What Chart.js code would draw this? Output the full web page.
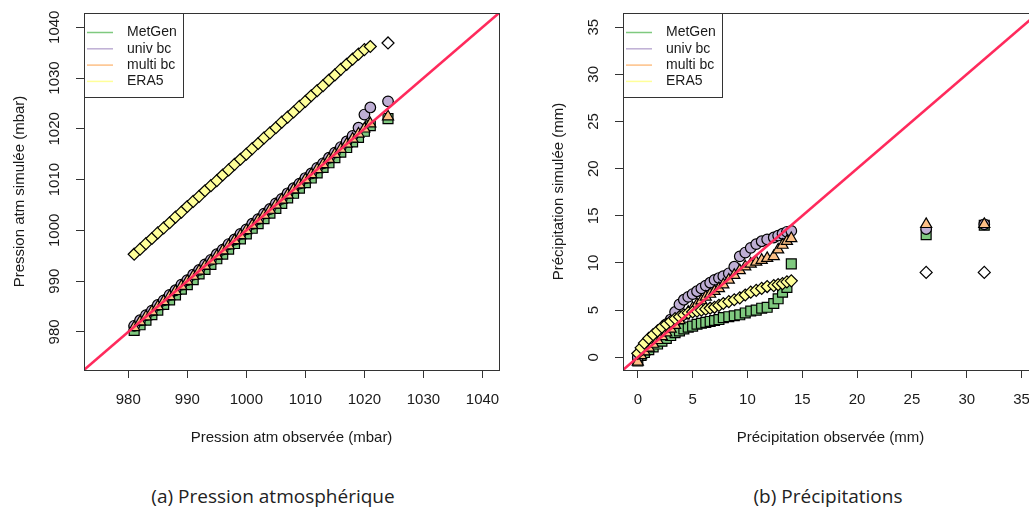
<!DOCTYPE html>
<html>
<head>
<meta charset="utf-8">
<script src="https://cdn.jsdelivr.net/npm/chart.js@4.4.1/dist/chart.umd.min.js"></script>
<style>
html, body { margin: 0; padding: 0; background: #fff; }
#page { position: relative; width: 1029px; height: 517px; overflow: hidden; }
.panel { position: absolute; top: 0; }
.caption { position: absolute; top: 483px; font-family: "Open Sans", sans-serif; font-size: 19px; color: #222;
  transform: translateX(-50%); white-space: nowrap; }
</style>
</head>
<body>
<div id="page">
  <canvas id="pressChart" class="panel" width="520" height="460" style="left:0"></canvas>
  <canvas id="precChart" class="panel" width="520" height="460" style="left:539px"></canvas>
  <div class="caption" style="left:273px">(a) Pression atmosphérique</div>
  <div class="caption" style="left:828px">(b) Précipitations</div>
</div>
<script>
// series shared by both panels
const seriesNames = ['MetGen', 'univ bc', 'multi bc', 'ERA5'];
const seriesColors = ['#7FC97F', '#BEAED4', '#FDC086', '#FFFF99'];
const seriesShapes = ['rect', 'circle', 'triangle', 'rectRot'];
const seriesRadius = [7.0, 5.3, 6.4, 6.0];

// (a) pressure, mbar
const pressTicks = [980, 990, 1000, 1010, 1020, 1030, 1040];
const pressRange = [972.5, 1042.8];
const obsPres = [981, 982, 983, 984, 985, 986, 987, 988, 989, 990, 991, 992, 993, 994, 995, 996, 997, 998, 999, 1000,
  1001, 1002, 1003, 1004, 1005, 1006, 1007, 1008, 1009, 1010, 1011, 1012, 1013, 1014, 1015, 1016, 1017, 1018, 1019, 1020,
  1021, 1024];
const metgenPres = [980.3, 981.4, 982.3, 983.4, 984.3, 985.4, 986.3, 987.3, 988.4, 989.3, 990.3, 991.4, 992.3, 993.3, 994.4,
  995.3, 996.3, 997.4, 998.3, 999.3, 1000.4, 1001.3, 1002.3, 1003.4, 1004.3, 1005.3, 1006.4, 1007.3, 1008.3, 1009.4,
  1010.3, 1011.3, 1012.4, 1013.3, 1014.3, 1015.4, 1016.3, 1017.4, 1018.3, 1019.5, 1020.6, 1022.0];
const univPres = [981.2, 982.3, 983.3, 984.2, 985.3, 986.2, 987.3, 988.2, 989.3, 990.2, 991.3, 992.2, 993.3, 994.2, 995.3,
  996.2, 997.3, 998.2, 999.3, 1000.2, 1001.3, 1002.2, 1003.3, 1004.2, 1005.3, 1006.2, 1007.3, 1008.3, 1009.2, 1010.3,
  1011.2, 1012.3, 1013.2, 1014.3, 1015.3, 1016.4, 1017.5, 1018.6, 1020.2, 1022.8, 1024.2, 1025.4];
const multiPres = [980.9, 982.0, 983.0, 984.0, 985.0, 986.0, 987.0, 988.0, 989.0, 990.0, 991.0, 992.0, 993.0, 994.0, 995.0,
  996.0, 997.0, 998.0, 999.0, 1000.0, 1001.0, 1002.0, 1003.0, 1004.0, 1005.0, 1006.0, 1007.0, 1008.0, 1009.0, 1010.0,
  1011.0, 1012.0, 1013.0, 1014.0, 1015.0, 1016.0, 1017.0, 1018.0, 1019.0, 1020.0, 1021.0, 1022.4];
const era5Pres = [995.3, 996.3, 997.4, 998.4, 999.5, 1000.5, 1001.5, 1002.6, 1003.6, 1004.7, 1005.7, 1006.7, 1007.8, 1008.8,
  1009.8, 1010.9, 1011.9, 1013.0, 1014.0, 1015.0, 1016.1, 1017.1, 1018.2, 1019.2, 1020.2, 1021.3, 1022.3, 1023.3, 1024.4,
  1025.4, 1026.5, 1027.5, 1028.5, 1029.6, 1030.6, 1031.7, 1032.7, 1033.7, 1034.7, 1035.6, 1036.2, 1036.9];

// (b) precipitation, mm
const precTicks = [0, 5, 10, 15, 20, 25, 30, 35];
const precRange = [-1.35, 36.5];
const obsPrec = [0, 0.3, 0.6, 1.0, 1.4, 1.8, 2.2, 2.6, 3.0, 3.4, 3.8, 4.2, 4.6, 5.0, 5.4, 5.8, 6.2, 6.6, 7.0, 7.4,
  7.8, 8.3, 8.8, 9.3, 9.8, 10.3, 10.8, 11.3, 11.8, 12.4, 12.8, 13.2, 13.6, 14.0, 26.3, 31.6];
const metgenPrec = [-0.4, 0.2, 0.5, 0.8, 1.1, 1.4, 1.7, 2.0, 2.3, 2.6, 2.8, 3.0, 3.2, 3.3, 3.5, 3.6, 3.7, 3.8, 3.9, 4.0,
  4.2, 4.3, 4.4, 4.5, 4.7, 4.9, 5.0, 5.2, 5.3, 5.7, 6.2, 6.9, 7.4, 9.9, 13.0, 14.0];
const univPrec = [0.0, 0.5, 1.0, 1.5, 2.0, 2.5, 3.0, 3.5, 4.0, 4.8, 5.6, 6.1, 6.4, 6.7, 7.0, 7.3, 7.6, 7.9, 8.2, 8.4,
  8.6, 8.9, 9.6, 10.7, 11.1, 11.6, 12.0, 12.3, 12.5, 12.7, 12.9, 13.1, 13.3, 13.4, 13.6, 14.1];
const multiPrec = [-0.5, 0.2, 0.6, 1.0, 1.4, 1.8, 2.2, 2.6, 3.0, 3.4, 3.9, 4.4, 4.8, 5.2, 5.6, 6.0, 6.4, 6.7, 7.0, 7.3,
  7.7, 8.2, 8.7, 9.2, 9.6, 9.9, 10.1, 10.3, 10.5, 10.7, 11.4, 11.9, 12.3, 12.6, 14.1, 14.1];
const era5Prec = [0.4, 1.0, 1.5, 2.0, 2.4, 2.8, 3.2, 3.5, 3.8, 4.1, 4.3, 4.5, 4.7, 4.8, 4.9, 5.0, 5.1, 5.2, 5.3, 5.5,
  5.7, 5.9, 6.1, 6.3, 6.6, 6.9, 7.1, 7.3, 7.5, 7.6, 7.7, 7.8, 8.0, 8.1, 9.0, 9.0];

const FONT = '"Liberation Sans", Arial, sans-serif';

// R-like frame: box, tick labels, axis titles and legend
const rFrame = {
    id: 'rFrame',
    afterDraw(chart, args, opts) {
        const { ctx, chartArea: a, scales } = chart;
        ctx.save();
        ctx.strokeStyle = '#333';
        ctx.lineWidth = 1;
        ctx.strokeRect(a.left + 0.5, a.top + 0.5, a.right - a.left, a.bottom - a.top);

        ctx.fillStyle = '#1a1a1a';
        ctx.font = '15px ' + FONT;
        ctx.textAlign = 'center';
        ctx.textBaseline = 'middle';
        scales.x.ticks.forEach(t => {
            ctx.fillText(String(t.value), scales.x.getPixelForValue(t.value), a.bottom + 30);
        });
        scales.y.ticks.forEach(t => {
            ctx.save();
            ctx.translate(a.left - 29, scales.y.getPixelForValue(t.value));
            ctx.rotate(-Math.PI / 2);
            ctx.fillText(String(t.value), 0, 0);
            ctx.restore();
        });

        ctx.fillText(opts.xTitle, (a.left + a.right) / 2, a.bottom + 68);
        ctx.save();
        ctx.translate(a.left - 64, (a.top + a.bottom) / 2);
        ctx.rotate(-Math.PI / 2);
        ctx.fillText(opts.yTitle, 0, 0);
        ctx.restore();

        // legend box in the top-left corner
        ctx.fillStyle = '#fff';
        ctx.fillRect(a.left + 1, a.top + 1, 98, 83);
        ctx.strokeStyle = '#333';
        ctx.strokeRect(a.left + 0.5, a.top + 0.5, 99, 84);
        ctx.font = '14px ' + FONT;
        ctx.textAlign = 'left';
        seriesNames.forEach((name, i) => {
            const y = a.top + 19.5 + i * 16.3;
            ctx.strokeStyle = seriesColors[i];
            ctx.lineWidth = 1.5;
            ctx.beginPath();
            ctx.moveTo(a.left + 3, y);
            ctx.lineTo(a.left + 29, y);
            ctx.stroke();
            ctx.fillStyle = '#1a1a1a';
            ctx.fillText(name, a.left + 43, y);
        });
        ctx.restore();
    }
};

function makeQQChart(canvasId, obs, sims, ticks, range, xTitle, yTitle, era5White) {
    const datasets = sims.map((sim, i) => ({
        label: seriesNames[i],
        data: obs.map((x, j) => ({ x: x, y: sim[j] })),
        pointStyle: seriesShapes[i],
        pointRadius: seriesRadius[i],
        pointBackgroundColor: i === 3
            ? (c => c.dataIndex >= obs.length - era5White ? '#ffffff' : seriesColors[i])
            : seriesColors[i],
        pointBorderColor: '#000',
        pointBorderWidth: 1.2,
        showLine: false,
        order: 4 - i
    }));
    // 1:1 line
    datasets.push({
        label: 'y = x',
        data: [{ x: range[0], y: range[0] }, { x: range[1], y: range[1] }],
        showLine: true,
        borderColor: '#ff2a5c',
        borderWidth: 2.5,
        pointRadius: 0,
        order: 0
    });

    const axis = (dim) => ({
        type: 'linear',
        min: range[0],
        max: range[1],
        afterFit: s => { if (dim === 'x') s.height = 0; else s.width = 0; },
        afterBuildTicks: s => { s.ticks = ticks.map(v => ({ value: v })); },
        ticks: { display: false },
        grid: { drawOnChartArea: false, drawTicks: true, tickLength: 8, color: '#333', lineWidth: 1 },
        border: { display: false }
    });

    return new Chart(document.getElementById(canvasId).getContext('2d'), {
        type: 'scatter',
        data: { datasets: datasets },
        options: {
            responsive: false,
            animation: false,
            events: [],
            layout: { padding: { left: 84, top: 13, right: 21, bottom: 90 } },
            scales: { x: axis('x'), y: axis('y') },
            plugins: {
                legend: { display: false },
                tooltip: { enabled: false },
                rFrame: { xTitle: xTitle, yTitle: yTitle }
            }
        },
        plugins: [rFrame]
    });
}

makeQQChart('pressChart', obsPres, [metgenPres, univPres, multiPres, era5Pres], pressTicks, pressRange,
    'Pression atm observée (mbar)', 'Pression atm simulée (mbar)', 1);
makeQQChart('precChart', obsPrec, [metgenPrec, univPrec, multiPrec, era5Prec], precTicks, precRange,
    'Précipitation observée (mm)', 'Précipitation simulée (mm)', 2);
</script>
</body>
</html>
